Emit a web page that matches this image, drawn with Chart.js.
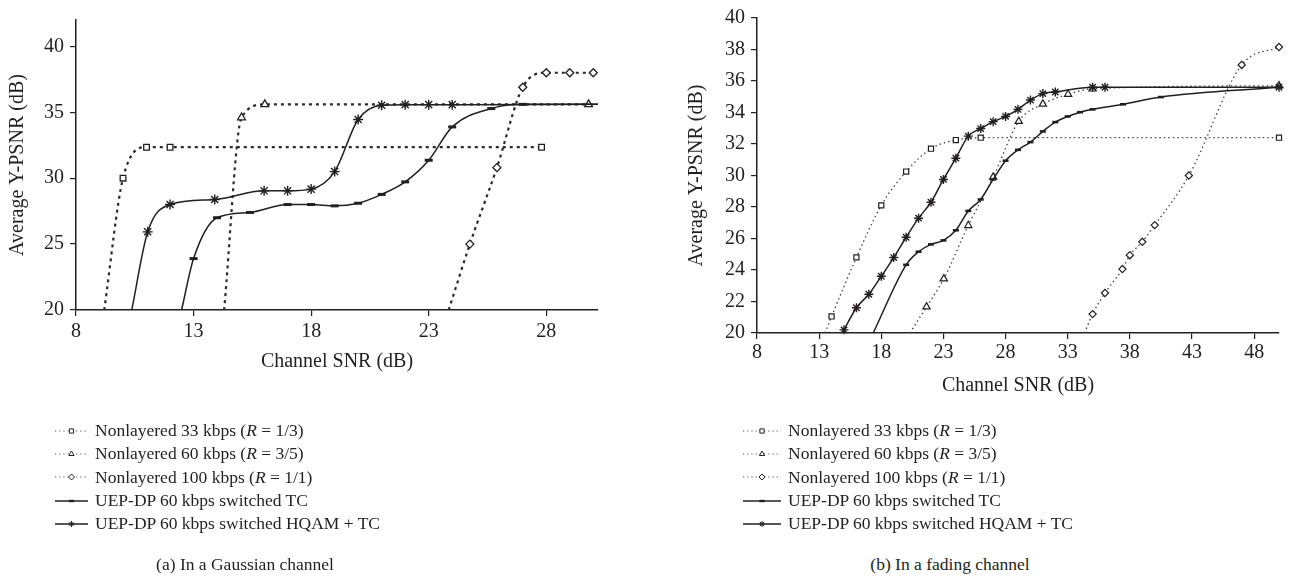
<!DOCTYPE html>
<html>
<head>
<meta charset="utf-8">
<script src="https://cdn.jsdelivr.net/npm/chart.js@4.4.1/dist/chart.umd.min.js"></script>
<style>
body{margin:0;background:#fff;width:1292px;height:579px;position:relative;overflow:hidden;font-family:"Liberation Serif","DejaVu Serif",serif;color:#231f20}
canvas.plot{position:absolute;top:0}
.legend{position:absolute;top:419px;font-size:17.5px}
.legend div{display:flex;align-items:center;height:23.3px;white-space:nowrap}
.legend canvas{margin-right:7px}
.caption{position:absolute;top:553px;line-height:23px;font-size:17.5px;transform:translateX(-50%);white-space:nowrap}
</style>
</head>
<body>
<canvas id="gauss" class="plot" width="640" height="400" style="left:0"></canvas>
<canvas id="fading" class="plot" width="652" height="400" style="left:640px"></canvas>
<div class="legend" id="legGauss" style="left:55px"></div>
<div class="legend" id="legFading" style="left:743px"></div>
<div class="caption" style="left:245px">(a) In a Gaussian channel</div>
<div class="caption" style="left:950px">(b) In a fading channel</div>
<script>
const seriesNames = [
  'Nonlayered 33 kbps (R = 1/3)',
  'Nonlayered 60 kbps (R = 3/5)',
  'Nonlayered 100 kbps (R = 1/1)',
  'UEP-DP 60 kbps switched TC',
  'UEP-DP 60 kbps switched HQAM + TC'
];

// (a) Gaussian channel
const gaussTicksX = [8, 13, 18, 23, 28];
const gaussTicksY = [20, 25, 30, 35, 40];
const gX33 = [9.2, 10, 11, 12, 27.8];
const gY33 = [20, 30, 32.35, 32.35, 32.35];
const gX60 = [14.3, 15.04, 16.03, 29.8];
const gY60 = [20, 34.6, 35.6, 35.6];
const gX100 = [23.85, 24.75, 25.9, 27, 28, 29, 30];
const gY100 = [20, 25, 30.8, 36.9, 38, 38, 38];
const gXTC = [12.49, 13, 14, 15.4, 17, 18, 19, 20, 21, 22, 23, 24, 25.66, 27, 30.2];
const gYTC = [20, 23.9, 27, 27.4, 28, 28, 27.9, 28.1, 28.77, 29.72, 31.36, 33.89, 35.28, 35.6, 35.6];
const gXHQ = [10.37, 11.05, 12, 13.9, 16, 17, 18, 19, 20, 21, 22, 23, 24, 30.2];
const gYHQ = [20, 25.93, 28, 28.38, 29.04, 29.04, 29.17, 30.5, 34.45, 35.53, 35.58, 35.58, 35.58, 35.6];

// (b) fading channel
const fadeTicksX = [8, 13, 18, 23, 28, 33, 38, 43, 48];
const fadeTicksY = [20, 22, 24, 26, 28, 30, 32, 34, 36, 38, 40];
const fX33 = [13.47, 14, 16, 18, 20, 22, 24, 26, 50];
const fY33 = [20, 21.05, 24.8, 28.1, 30.25, 31.7, 32.25, 32.4, 32.4];
const fX60 = [20.3, 21.64, 23.03, 25, 27, 29.06, 31, 33.03, 35, 50];
const fY60 = [20, 21.66, 23.44, 26.83, 29.9, 33.44, 34.54, 35.16, 35.5, 35.7];
const fX100 = [34.35, 35, 36, 37.4, 38, 39, 40, 42.75, 47, 50];
const fY100 = [20, 21.2, 22.54, 24.06, 24.94, 25.79, 26.85, 30, 37.02, 38.16];
const fXTC = [17.35, 20, 21, 22, 23, 24, 25, 26, 27, 28, 29, 30, 31, 32, 33, 34, 35, 37.45, 40.5, 50];
const fYTC = [20, 24.33, 25.16, 25.63, 25.88, 26.52, 27.75, 28.48, 29.75, 30.94, 31.63, 32.12, 32.8, 33.39, 33.75, 34.02, 34.2, 34.52, 34.98, 35.6];
const fXHQ = [15, 16, 17, 18, 19, 20, 21, 22, 23, 24, 25, 26, 27, 28, 29, 30, 31, 32, 35, 36, 50];
const fYHQ = [20.2, 21.6, 22.46, 23.6, 24.79, 26.08, 27.29, 28.3, 29.75, 31.1, 32.5, 32.98, 33.42, 33.75, 34.2, 34.79, 35.2, 35.3, 35.6, 35.6, 35.6];

const ink = '#231f20';
const markers = ['rect', 'triangle', 'rectRot', 'line', 'star'];

function makeSeries(xs, ys, i, st, hideEnd, xMax){
  const dotted = i < 3;
  return {
    label: seriesNames[i],
    data: xs.map((x, k) => ({x, y: ys[k]})),
    borderColor: dotted ? st.dotColor : ink,
    borderWidth: dotted ? st.dotWidth : 1.5,
    borderDash: dotted ? st.dash : [],
    cubicInterpolationMode: 'monotone',
    fill: false,
    clip: false,
    pointStyle: markers[i],
    pointRadius: c => (c.raw.y <= 20 || (hideEnd && c.raw.x >= xMax)) ? 0 : st.radius[i],
    pointBorderWidth: st.pbw[i],
    pointBackgroundColor: '#fff',
    pointBorderColor: ink,
    order: 5 - i
  };
}

function buildChart(id, o){
  const font = {family: 'Liberation Serif', size: 20};
  return new Chart(document.getElementById(id), {
    type: 'line',
    data: {datasets: o.series},
    options: {
      responsive: false, animation: false, devicePixelRatio: 1,
      layout: {padding: o.padding},
      plugins: {legend: {display: false}, tooltip: {enabled: false}},
      scales: {
        x: {
          type: 'linear', min: o.xMin, max: o.xMax,
          afterBuildTicks: s => { s.ticks = o.ticksX.map(v => ({value: v})); },
          afterFit: s => { s.height = o.xHeight; },
          grid: {drawOnChartArea: false, tickLength: 6, color: ink, lineWidth: 1.2},
          border: {color: ink, width: 1.5},
          ticks: {font, color: ink, padding: o.xTickPad, maxRotation: 0, autoSkip: false},
          title: {display: true, text: 'Channel SNR (dB)', font, color: ink, padding: {top: 0, bottom: o.xTitlePad}}
        },
        y: {
          type: 'linear', min: 20, max: o.yMax,
          afterBuildTicks: s => { s.ticks = o.ticksY.map(v => ({value: v})); },
          afterFit: s => { s.width = o.yWidth; },
          grid: {drawOnChartArea: false, tickLength: 6, color: ink, lineWidth: 1.2},
          border: {color: ink, width: 1.5},
          ticks: {font, color: ink, padding: 6, autoSkip: false},
          title: {display: true, text: 'Average Y-PSNR (dB)', font, color: ink, padding: {top: o.yTitlePad, bottom: 0}}
        }
      }
    }
  });
}

const gaussStyle = {dotColor: '#2a2a2a', dotWidth: 2.2, dash: [3, 4], radius: [4, 4.5, 4, 4, 5], pbw: [1.3, 1.3, 1.3, 3, 1.4]};
const fadeStyle = {dotColor: '#444', dotWidth: 1.3, dash: [1.5, 3], radius: [3.6, 4.2, 3.6, 3, 4.5], pbw: [1.2, 1.2, 1.2, 2.6, 1.4]};

const gaussSeries = [
  makeSeries(gX33, gY33, 0, gaussStyle, true, 30.2),
  makeSeries(gX60, gY60, 1, gaussStyle, true, 30.2),
  makeSeries(gX100, gY100, 2, gaussStyle, true, 30.2),
  makeSeries(gXTC, gYTC, 3, gaussStyle, true, 30.2),
  makeSeries(gXHQ, gYHQ, 4, gaussStyle, true, 30.2)
];
const fadeSeries = [
  makeSeries(fX33, fY33, 0, fadeStyle, false, 50),
  makeSeries(fX60, fY60, 1, fadeStyle, false, 50),
  makeSeries(fX100, fY100, 2, fadeStyle, false, 50),
  makeSeries(fXTC, fYTC, 3, fadeStyle, false, 50),
  makeSeries(fXHQ, fYHQ, 4, fadeStyle, false, 50)
];

buildChart('gauss', {
  series: gaussSeries, xMin: 8, xMax: 30.2, yMax: 42,
  ticksX: gaussTicksX, ticksY: gaussTicksY,
  padding: {left: 0, top: 20, right: 42, bottom: 0},
  yWidth: 76, xHeight: 90, xTickPad: 4, xTitlePad: 26, yTitlePad: 6
});
buildChart('fading', {
  series: fadeSeries, xMin: 8, xMax: 50, yMax: 40,
  ticksX: fadeTicksX, ticksY: fadeTicksY,
  padding: {left: 0, top: 13, right: 13, bottom: 0},
  yWidth: 117, xHeight: 67, xTickPad: 2, xTitlePad: 2, yTitlePad: 45
});

// legends: line sample + marker drawn with Chart.js point helper
function legend(boxId, series, w){
  const box = document.getElementById(boxId);
  series.forEach(ds => {
    const row = document.createElement('div');
    const c = document.createElement('canvas');
    c.width = w; c.height = 16;
    const ctx = c.getContext('2d');
    const dotted = ds.borderDash.length > 0;
    ctx.strokeStyle = dotted ? '#555' : ink;
    ctx.lineWidth = dotted ? 1.1 : 1.4;
    ctx.setLineDash(dotted ? [1.2, 3] : []);
    ctx.beginPath(); ctx.moveTo(0, 8); ctx.lineTo(w, 8); ctx.stroke();
    ctx.setLineDash([]);
    ctx.fillStyle = '#fff'; ctx.strokeStyle = ink;
    const isDash = ds.pointStyle === 'line';
    ctx.lineWidth = isDash ? 2.4 : 1;
    Chart.helpers.drawPoint(ctx, {pointStyle: ds.pointStyle, radius: isDash ? 2.6 : 3, borderWidth: ctx.lineWidth, rotation: 0}, w / 2, 8);
    const t = document.createElement('span');
    t.innerHTML = ds.label.replace('R =', '<i>R</i> =');
    row.appendChild(c); row.appendChild(t);
    box.appendChild(row);
  });
}
legend('legGauss', gaussSeries, 33);
legend('legFading', fadeSeries, 38);
</script>
</body>
</html>
